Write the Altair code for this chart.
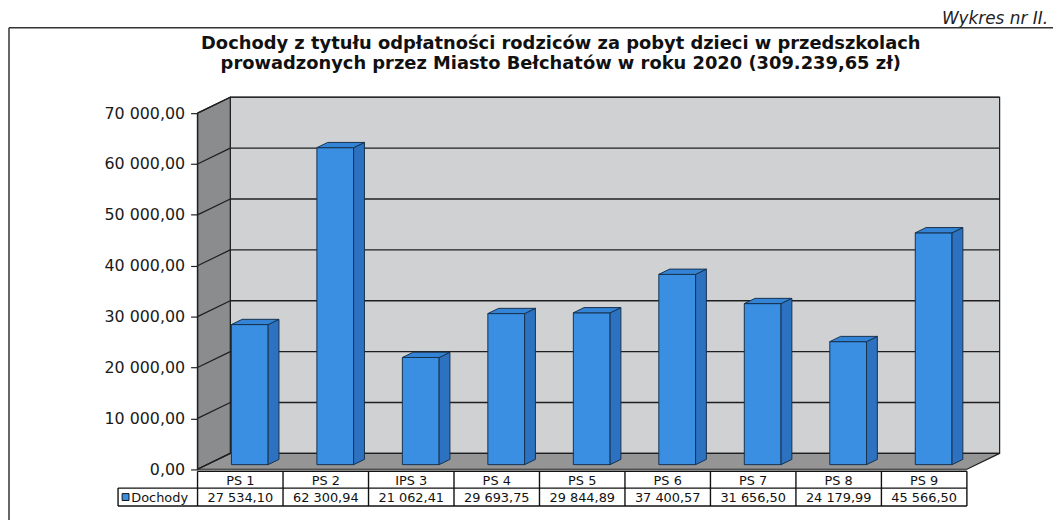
import altair as alt
import pandas as pd

# ---------------- data ----------------
categories = ["PS 1", "PS 2", "IPS 3", "PS 4", "PS 5", "PS 6", "PS 7", "PS 8", "PS 9"]
values = [27534.10, 62300.94, 21062.41, 29693.75, 29844.89, 37400.57, 31656.50, 24179.99, 45566.50]
series_name = "Dochody"
y_ticks = [0, 10000, 20000, 30000, 40000, 50000, 60000, 70000]
title_lines = [
    "Dochody z tytułu odpłatności rodziców za pobyt dzieci w przedszkolach",
    "prowadzonych przez Miasto Bełchatów w roku 2020 (309.239,65 zł)",
]
figure_label = "Wykres nr II."


def pl(v):
    return f"{v:,.2f}".replace(",", " ").replace(".", ",")


value_labels = [pl(v) for v in values]

# ---------------- geometry (style constants) ----------------
N = len(categories)
YMAX = y_ticks[-1]
DX = 0.383      # full depth, x units
DY = 3120       # full depth, y units
D0, D1 = 0.29, 0.62   # bar front/back depth fraction
HW = 0.215      # half bar width
T0, T1, T2 = -400, -3706, -7217   # table row lines
LEG_X = -0.93

xs = alt.Scale(domain=[0, 9.45], nice=False, zero=False)
ys = alt.Scale(domain=[-7250, 73500], nice=False, zero=False)

Y_AXIS = alt.Axis(
    values=y_ticks,
    labelExpr="replace(replace(format(datum.value, ',.2f'), ',', ' '), '.', ',')",
    domain=False, grid=False, ticks=True, tickSize=7, tickColor="#222", tickWidth=1.2,
    labelFont="DejaVu Sans", labelFontSize=16, labelColor="#1a1a1a", labelPadding=6,
    title=None,
)


def X(f):
    return alt.X(f, type="quantitative", scale=xs, axis=None, title=None, stack=None)


def X2(f):
    return alt.X2(f)


def Y(f):
    return alt.Y(f, type="quantitative", scale=ys, axis=Y_AXIS, title=None, stack=None)


def Y2(f):
    return alt.Y2(f)


OUT = "#1f1f1f"
BAR_OUT = "#17324f"

# back wall
wall = alt.Chart(pd.DataFrame({"x": [DX], "x2": [N + DX], "y": [DY], "y2": [YMAX + DY]})).mark_rect(
    fill="#cfd1d3", stroke=OUT, strokeWidth=1.2
).encode(x=X("x"), x2=X2("x2"), y=Y("y"), y2=Y2("y2"))

# left side wall
side_wall = alt.Chart(pd.DataFrame({"x": [0, DX], "y": [YMAX, YMAX + DY], "y2": [0, DY]})).mark_area(
    orient="vertical", fill="#8a8c8e", stroke=OUT, strokeWidth=1.2
).encode(x=X("x"), y=Y("y"), y2=Y2("y2"))

# floor
floor = alt.Chart(pd.DataFrame({"y": [0, DY], "x": [0, DX], "x2": [N, N + DX]})).mark_area(
    orient="horizontal", fill="#959595", stroke=OUT, strokeWidth=1.2
).encode(y=Y("y"), x=X("x"), x2=X2("x2"))

# gridlines on back wall
grid_df = pd.DataFrame({"v": y_ticks[1:]})
grid_df["y"] = grid_df["v"] + DY
grid_df["x"] = DX
grid_df["x2"] = N + DX
grid_back = alt.Chart(grid_df).mark_rule(color=OUT, strokeWidth=1.3).encode(
    x=X("x"), x2=X2("x2"), y=Y("y")
)
diag_df = pd.DataFrame({"v": y_ticks})
diag_df["x"] = 0.0
diag_df["x2"] = DX
diag_df["y"] = diag_df["v"]
diag_df["y2"] = diag_df["v"] + DY
grid_side = alt.Chart(diag_df).mark_rule(color=OUT, strokeWidth=1.2).encode(
    x=X("x"), x2=X2("x2"), y=Y("y"), y2=Y2("y2")
)

# bars
bdx = (D1 - D0) * DX
bdy = (D1 - D0) * DY
front_rows, side_rows, top_rows = [], [], []
for i, (c, v) in enumerate(zip(categories, values)):
    cx = i + 0.5 + D0 * DX
    base = D0 * DY
    front_rows.append({"cat": c, "x": cx - HW, "x2": cx + HW, "y": base, "y2": v + base})
    side_rows.append({"cat": c, "x": cx + HW, "y": v + base, "y2": base})
    side_rows.append({"cat": c, "x": cx + HW + bdx, "y": v + base + bdy, "y2": base + bdy})
    top_rows.append({"cat": c, "y": v + base, "x": cx - HW, "x2": cx + HW})
    top_rows.append({"cat": c, "y": v + base + bdy, "x": cx - HW + bdx, "x2": cx + HW + bdx})

bar_front = alt.Chart(pd.DataFrame(front_rows)).mark_rect(
    fill="#3a8fe3", stroke=BAR_OUT, strokeWidth=1
).encode(x=X("x"), x2=X2("x2"), y=Y("y"), y2=Y2("y2"))
bar_side = alt.Chart(pd.DataFrame(side_rows)).mark_area(
    orient="vertical", fill="#2c72c0", stroke=BAR_OUT, strokeWidth=1
).encode(x=X("x"), y=Y("y"), y2=Y2("y2"), detail="cat:N")
bar_top = alt.Chart(pd.DataFrame(top_rows)).mark_area(
    orient="horizontal", fill="#3384d6", stroke=BAR_OUT, strokeWidth=1
).encode(y=Y("y"), x=X("x"), x2=X2("x2"), detail="cat:N")

# front axis line
axis_line = alt.Chart(pd.DataFrame({"x": [0.0], "y": [0], "y2": [YMAX]})).mark_rule(
    color=OUT, strokeWidth=1.4
).encode(x=X("x"), y=Y("y"), y2=Y2("y2"))

# data table
h_rows = pd.DataFrame({"x": [0, LEG_X, LEG_X], "x2": [N, N, N], "y": [T0, T1, T2]})
table_h = alt.Chart(h_rows).mark_rule(color="#111", strokeWidth=1.4).encode(
    x=X("x"), x2=X2("x2"), y=Y("y")
)
v_rows = pd.DataFrame({"x": list(range(N + 1)) + [LEG_X],
                       "y": [T0] * (N + 1) + [T1],
                       "y2": [T2] * (N + 2)})
table_v = alt.Chart(v_rows).mark_rule(color="#111", strokeWidth=1.4).encode(
    x=X("x"), y=Y("y"), y2=Y2("y2")
)
tab_df = pd.DataFrame({"cat": categories, "label": value_labels,
                       "x": [i + 0.5 for i in range(N)]})
tab_df["yh"] = (T0 + T1) / 2
tab_df["yv"] = (T1 + T2) / 2
table_head = alt.Chart(tab_df).mark_text(
    font="DejaVu Sans", fontSize=13, color="#111", baseline="middle", dy=1
).encode(x=X("x"), y=Y("yh"), text="cat:N")
table_vals = alt.Chart(tab_df).mark_text(
    font="DejaVu Sans", fontSize=13, color="#111", baseline="middle", dy=1
).encode(x=X("x"), y=Y("yv"), text="label:N")

leg_df = pd.DataFrame({"name": [series_name], "xs": [LEG_X + 0.088], "xt": [LEG_X + 0.155],
                       "y": [(T1 + T2) / 2]})
leg_sq = alt.Chart(leg_df).mark_square(size=48, fill="#3a8fe3", stroke="#111", strokeWidth=1, opacity=1).encode(
    x=X("xs"), y=Y("y")
)
leg_txt = alt.Chart(leg_df).mark_text(
    font="DejaVu Sans", fontSize=13, color="#111", align="left", baseline="middle", dy=1
).encode(x=X("xt"), y=Y("y"), text="name:N")

# titles & frame (annotation positions in pixels)
one = pd.DataFrame({"a": [0]})
t1 = alt.Chart(one).mark_text(
    text=title_lines[0], font="DejaVu Sans", fontWeight="bold", fontSize=18, color="#111",
    align="center", baseline="middle"
).encode(x=alt.value(366), y=alt.value(-52))
t2 = alt.Chart(one).mark_text(
    text=title_lines[1], font="DejaVu Sans", fontWeight="bold", fontSize=18, color="#111",
    align="center", baseline="middle"
).encode(x=alt.value(366), y=alt.value(-31))
fig_lbl = alt.Chart(one).mark_text(
    text=figure_label, font="DejaVu Sans", fontStyle="italic", fontSize=17, color="#222",
    align="right", baseline="alphabetic"
).encode(x=alt.value(857), y=alt.value(-72))
frame_top = alt.Chart(one).mark_rule(color="#333", strokeWidth=1.5).encode(
    x=alt.value(-190), x2=alt.value(870), y=alt.value(-68)
)
frame_left = alt.Chart(one).mark_rule(color="#333", strokeWidth=1.5).encode(
    x=alt.value(-190), y=alt.value(-68), y2=alt.value(430)
)

chart = alt.layer(
    wall, side_wall, floor, grid_back, grid_side,
    bar_front, bar_side, bar_top,
    axis_line, table_h, table_v, table_head, table_vals, leg_sq, leg_txt,
    t1, t2, fig_lbl, frame_top, frame_left,
).properties(
    width=814, height=414,
    autosize=alt.AutoSizeParams(type="none"),
    padding={"left": 191, "top": 86, "right": 48, "bottom": 12},
).configure_view(stroke=None)

chart.save("out.html", embed_options={"renderer": "svg", "actions": False})
